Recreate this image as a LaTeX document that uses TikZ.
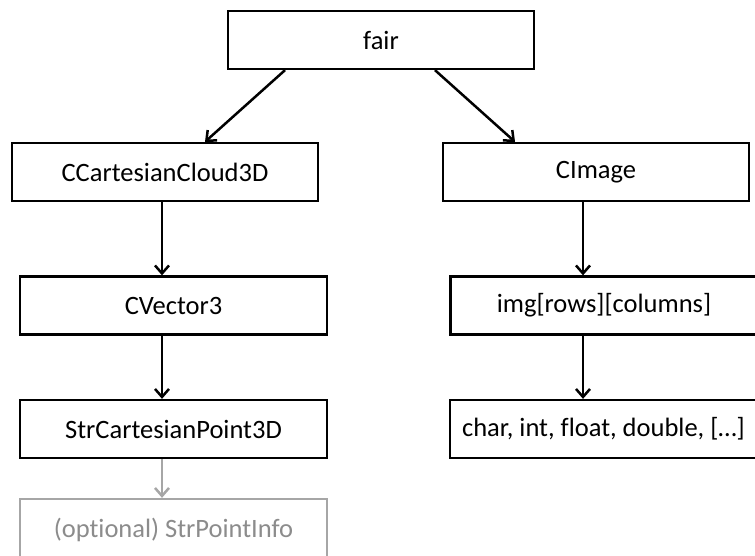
\documentclass[tikz,border=0pt]{standalone}
\usepackage{fontspec}
\setmainfont[Ligatures=NoCommon]{Carlito}
\usetikzlibrary{arrows.meta,calc}
\definecolor{optline}{RGB}{166,166,166}
\definecolor{opttext}{RGB}{140,140,140}
\begin{document}
\begin{tikzpicture}[x=1pt,y=-1pt,
  box/.style={draw=black,line width=2.3pt,fill=white,minimum width=306pt,minimum height=58pt,inner sep=0pt,font=\fontsize{26.5}{30}\selectfont},
  arr/.style={line width=2.5pt,-{Straight Barb[length=8pt,width=14pt]}},
  optbox/.style={box,draw=optline,text=opttext},
  optarr/.style={arr,draw=optline}]
\useasboundingbox (0,0) rectangle (755,556);
\node[box] (fair) at (381,40) {fair};
\node[box] (cc) at (165,172) {CCartesianCloud3D};
\node[box] (ci) at (596,172) {CImage};
\node[box,minimum width=307pt] (cv) at (173.5,305.5) {CVector3};
\node[box,minimum width=307pt] (img) at (604,305.5) {img[rows][columns]};
\node[box,minimum width=307pt] (sp) at (173.5,429) {StrCartesianPoint3D};
\node[box,minimum width=307pt] (ch) at (603.5,429) {char, int, float, double, [\dots]};
\node[optbox,minimum width=307pt,minimum height=62pt] (op) at (173.5,530) {(optional) StrPointInfo};
\draw[arr] ($(fair.south)+(-96,0)$) -- ($(cc.north)+(40,0)$);
\draw[arr] ($(fair.south)+(54,0)$) -- ($(ci.north)+(-81,0)$);
\draw[arr] ($(cc.south)+(-3,0)$) -- ($(cv.north)+(-11.5,0)$);
\draw[arr] ($(ci.south)+(-13,0)$) -- ($(img.north)+(-21,0)$);
\draw[arr] ($(cv.south)+(-11.5,0)$) -- ($(sp.north)+(-11.5,0)$);
\draw[arr] ($(img.south)+(-21,0)$) -- ($(ch.north)+(-20.5,0)$);
\draw[optarr] ($(sp.south)+(-11.5,0)$) -- ($(op.north)+(-11.5,0)$);
\end{tikzpicture}
\end{document}
